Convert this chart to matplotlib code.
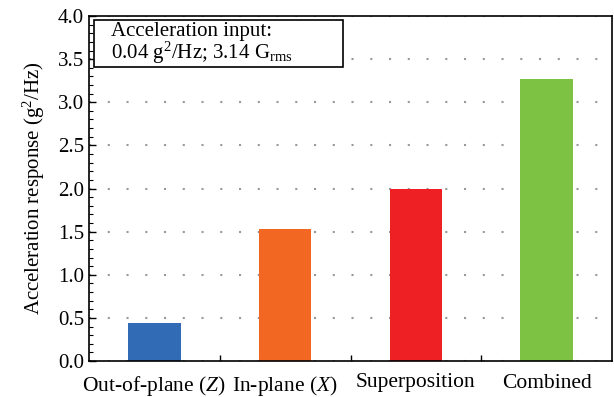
import numpy as np
import matplotlib.pyplot as plt
from matplotlib.patches import Rectangle
from matplotlib.ticker import MultipleLocator, FormatStrFormatter

plt.rcParams['font.family'] = ['Liberation Serif', 'DejaVu Serif']
plt.rcParams['mathtext.fontset'] = 'custom'
plt.rcParams['mathtext.rm'] = 'Liberation Serif'
plt.rcParams['mathtext.it'] = 'Liberation Serif:italic'

categories = ['Out-of-plane ($\\it{Z}$)', 'In-plane ($\\it{X}$)', 'Superposition', 'Combined']
values = [0.44, 1.53, 1.99, 3.27]
colors = ['#316BB5', '#F26722', '#EE2024', '#7DC242']

fig = plt.figure(figsize=(6.14, 3.97), dpi=100)
ax = fig.add_axes([89 / 614, 36 / 397, 523 / 614, 345 / 397])

x = np.arange(len(categories))
ax.bar(x, values, width=0.4, color=colors, zorder=2)

ax.set_xlim(-0.5, len(categories) - 0.5)
ax.set_ylim(0, 4.0)
ax.yaxis.set_major_locator(MultipleLocator(0.5))
ax.yaxis.set_minor_locator(MultipleLocator(0.1))
ax.yaxis.set_major_formatter(FormatStrFormatter('%.1f'))
ax.set_xticks(x)
ax.set_xticklabels(categories, fontsize=15.5)
ax.set_xticks(x[:-1] + 0.5, minor=True)
ax.tick_params(axis='x', which='major', length=0, pad=9)
ax.tick_params(axis='x', which='minor', direction='in', length=4, width=1)
ax.tick_params(axis='y', which='major', direction='in', length=5, width=1, labelsize=15)
ax.tick_params(axis='y', which='minor', direction='in', length=3, width=0.8)
ax.grid(axis='y', which='major', linestyle=(0, (1, 8)), color='#999999', linewidth=1.5, zorder=0)
for s in ax.spines.values():
    s.set_linewidth(1.2)

ax.set_ylabel('Acceleration response (g$^2$/Hz)', fontsize=15, labelpad=8)

ax.add_patch(Rectangle((0.0096, 0.852), 0.476, 0.136, transform=ax.transAxes,
                       facecolor='white', edgecolor='black', linewidth=1.2, zorder=3))
ax.text(0.042, 0.982, 'Acceleration input:\n0.04 g$^2$/Hz; 3.14 G$_{\\mathrm{rms}}$',
        transform=ax.transAxes, ha='left', va='top', fontsize=15, linespacing=0.95,
        zorder=4)

fig.savefig('out.png', dpi=100)
